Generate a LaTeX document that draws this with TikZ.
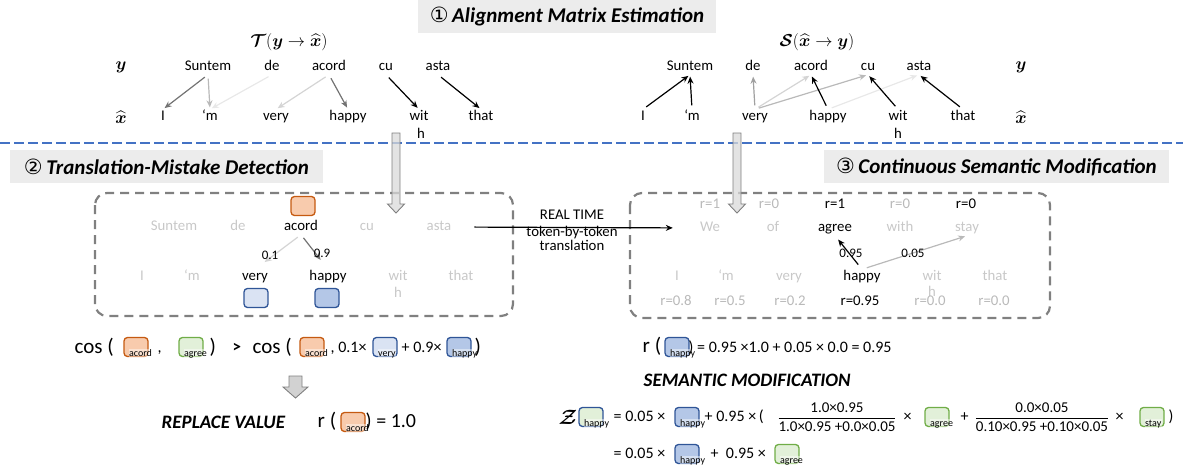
\documentclass[tikz,border=0pt]{standalone}
\usepackage{amsmath}
\usepackage{bm}
\usepackage{fontspec}
\setmainfont{Carlito}
\newfontfamily\circfont{DejaVu Sans}
\usetikzlibrary{arrows.meta}

\definecolor{hdrgray}{RGB}{236,236,236}
\definecolor{sepblue}{RGB}{68,114,196}
\definecolor{boxgray}{RGB}{128,128,128}
\definecolor{faint}{RGB}{200,200,200}
\definecolor{rgray}{RGB}{185,185,185}
\definecolor{orD}{RGB}{197,90,17}
\definecolor{orL}{RGB}{248,203,173}
\definecolor{grD}{RGB}{112,173,71}
\definecolor{grL}{RGB}{226,240,217}
\definecolor{blD}{RGB}{47,85,151}
\definecolor{blL}{RGB}{218,227,243}
\definecolor{blM}{RGB}{180,199,231}
\definecolor{aA}{RGB}{115,115,115}
\definecolor{aB}{RGB}{160,160,160}
\definecolor{aC}{RGB}{185,185,185}
\definecolor{aD}{RGB}{212,212,212}
\definecolor{aE}{RGB}{232,232,232}

\newcommand\fsz[1]{\fontsize{#1}{#1}\selectfont}

% embedding box with a small caption in its lower right part
\newcommand\vecbox[4]{%
  \node[tbox,#3] (#1) at (#2) {};
  \node[sublab] (#1l) at ([xshift=5pt,yshift=-2pt]#1.south west) {#4};
}

\tikzset{
  tok/.style={font=\fsz{14.8}, inner sep=1pt, text height=10pt, text depth=3pt},
  mlab/.style={font=\fsz{17}, inner sep=1pt},
  hdr/.style={fill=hdrgray, inner sep=0pt, font=\fsz{21}, minimum height=33pt},
  conn/.style={-{Stealth[length=7pt,width=6pt]}, line width=1.2pt, shorten <=4pt, shorten >=2pt},
  dbox/.style={draw=boxgray, line width=2.2pt, dash pattern=on 9pt off 6pt, rounded corners=12pt},
  hollow/.style={draw=gray, line width=0.9pt, fill=gray!30, fill opacity=0.75},
  tbox/.style={rounded corners=3.5pt, minimum width=24pt, minimum height=19pt, line width=1.3pt, inner sep=0pt},
  oran/.style={draw=orD, fill=orL},
  gre/.style={draw=grD, fill=grL},
  blueA/.style={draw=blD, fill=blL},
  blueB/.style={draw=blD, fill=blM},
  mixed/.style={draw=blD, fill=grL},
  sublab/.style={anchor=south west, font=\fsz{10}, inner sep=0.6pt, text height=6.5pt, text depth=2pt,
    fill=white, fill opacity=0.45, text opacity=1},
  ftxt/.style={font=\fsz{16}, inner sep=0.5pt, anchor=west, text height=11pt, text depth=3pt},
  fbig/.style={font=\fsz{21}, inner sep=0.5pt, anchor=west, text height=15pt, text depth=4.5pt},
  bi/.style={font=\fsz{19}\bfseries\itshape, inner sep=0.5pt, anchor=west},
  wlab/.style={font=\fsz{13}, inner sep=0.5pt},
}

\begin{document}
\begin{tikzpicture}[x=1pt, y=-1pt]
\useasboundingbox (0,0) rectangle (1183,472);

% ---------- stage 1: alignment matrices ----------
\node[hdr, minimum width=298pt] (h1) at (567,16.5) {{\circfont ①}\,\textbf{\textit{Alignment Matrix Estimation}}};

\node[mlab] (tT) at (289,42) {$\bm{\mathcal{T}}(\bm{y}\rightarrow\widehat{\bm{x}})$};
\node[mlab] (tS) at (817,42) {$\bm{\mathcal{S}}(\widehat{\bm{x}}\rightarrow\bm{y})$};

\node[mlab] (lY) at (121,67) {$\bm{y}$};
\node[mlab] (lX) at (121,117) {$\widehat{\bm{x}}$};
\node[mlab] (rY) at (1021,67) {$\bm{y}$};
\node[mlab] (rX) at (1021,117) {$\widehat{\bm{x}}$};

% left: target-to-source
\node[tok] (lySun) at (208,67) {Suntem};
\node[tok] (lyDe)  at (272,67) {de};
\node[tok] (lyAc)  at (329,67) {acord};
\node[tok] (lyCu)  at (386,67) {cu};
\node[tok] (lyAs)  at (438,67) {asta};
\node[tok] (lxI)  at (163,117) {I};
\node[tok] (lxM)  at (210,117) {‘m};
\node[tok] (lxV)  at (276,117) {very};
\node[tok] (lxH)  at (348,117) {happy};
\node[tok] (lxW)  at (419,117) {wit};
\node[tok] (lxW2) at (421,135) {h};
\node[tok] (lxT)  at (481,117) {that};

\draw[conn, aA] (lySun.south) -- (lxI.north);
\draw[conn, aC] (lySun.south) -- (lxM.north);
\draw[conn, aE] (lyDe.south) -- (lxM.north);
\draw[conn, aD] (lyAc.south) -- (lxV.north);
\draw[conn, aA] (lyAc.south) -- (lxH.north);
\draw[conn, black] (lyCu.south) -- (lxW.north);
\draw[conn, black] (lyAs.south) -- (lxT.north);

% right: source-to-target
\node[tok] (rySun) at (690,67) {Suntem};
\node[tok] (ryDe)  at (753,67) {de};
\node[tok] (ryAc)  at (811,67) {acord};
\node[tok] (ryCu)  at (868,67) {cu};
\node[tok] (ryAs)  at (919,67) {asta};
\node[tok] (rxI)  at (643,117) {I};
\node[tok] (rxM)  at (692,117) {‘m};
\node[tok] (rxV)  at (755,117) {very};
\node[tok] (rxH)  at (828,117) {happy};
\node[tok] (rxW)  at (898,117) {wit};
\node[tok] (rxW2) at (898,135) {h};
\node[tok] (rxT)  at (963,117) {that};

\draw[conn, aE] (rxH.north) -- (ryAs.south);
\draw[conn, aD] (rxV.north) -- (ryAc.south);
\draw[conn, aC] (rxV.north) -- (ryCu.south);
\draw[conn, aB] (rxV.north) -- (ryDe.south);
\draw[conn, black] (rxI.north) -- (rySun.south);
\draw[conn, black] (rxM.north) -- (rySun.south);
\draw[conn, black] (rxH.north) -- (ryAc.south);
\draw[conn, black] (rxW.north) -- (ryCu.south);
\draw[conn, black] (rxT.north) -- (ryAs.south);

% separator
\draw[sepblue, line width=1.8pt, dash pattern=on 10pt off 4pt] (0,143) -- (1183,143);

% ---------- stage 2: mistake detection ----------
\node[hdr, minimum width=313pt] (h2) at (166.5,166.5) {{\circfont ②}\,\textbf{\textit{Translation-Mistake Detection}}};
\draw[dbox] (95,193) rectangle (513,316);

\node[tok, faint] (dySun) at (174,227) {Suntem};
\node[tok, faint] (dyDe)  at (238,227) {de};
\node[tok]        (dyAc)  at (301,227) {acord};
\node[tok, faint] (dyCu)  at (367,227) {cu};
\node[tok, faint] (dyAs)  at (439,227) {asta};
\node[tok, faint] (dxI)  at (142,277) {I};
\node[tok, faint] (dxM)  at (192,277) {‘m};
\node[tok]        (dxV)  at (255,277) {very};
\node[tok]        (dxH)  at (328,277) {happy};
\node[tok, faint] (dxW)  at (398,277) {wit};
\node[tok, faint] (dxW2) at (398,294) {h};
\node[tok, faint] (dxT)  at (461,277) {that};

\node[tbox, oran]  (dbAc) at (303,206) {};
\node[tbox, blueA] (dbV)  at (256,298) {};
\node[tbox, blueB] (dbH)  at (327,298) {};

\draw[conn, aD, shorten >=12pt] (dyAc.south) -- (dxV.north);
\draw[conn, aA, shorten >=12pt] (dyAc.south) -- (dxH.north);
\node[wlab] (w01) at (270,255) {0.1};
\node[wlab] (w09) at (322,253) {0.9};

% ---------- stage 3: semantic modification ----------
\node[hdr, minimum width=345pt] (h3) at (996.5,166.5) {{\circfont ③}\,\textbf{\textit{Continuous Semantic Modification}}};
\draw[dbox] (630,193) rectangle (1050,318);

\node[tok, rgray] (mr1) at (710,205) {r=1};
\node[tok, rgray] (mr2) at (769,205) {r=0};
\node[tok]        (mr3) at (835,205) {r=1};
\node[tok, rgray] (mr4) at (900,205) {r=0};
\node[tok]        (mr5) at (966,205) {r=0};
\node[tok, faint] (mxWe) at (710,228) {We};
\node[tok, faint] (mxOf) at (773,228) {of};
\node[tok]        (mxAg) at (835,228) {agree};
\node[tok, faint] (mxWi) at (900,228) {with};
\node[tok, faint] (mxSt) at (967,228) {stay};
\node[tok, faint] (mqI)  at (677,277) {I};
\node[tok, faint] (mqM)  at (726,277) {‘m};
\node[tok, faint] (mqV)  at (789,277) {very};
\node[tok]        (mqH)  at (862,277) {happy};
\node[tok, faint] (mqW)  at (932,277) {wit};
\node[tok, faint] (mqW2) at (932,293) {h};
\node[tok, faint] (mqT)  at (995,277) {that};
\node[tok, rgray] (ms1) at (676,302) {r=0.8};
\node[tok, rgray] (ms2) at (730,302) {r=0.5};
\node[tok, rgray] (ms3) at (790,302) {r=0.2};
\node[tok]        (ms4) at (860,302) {r=0.95};
\node[tok, rgray] (ms5) at (930,302) {r=0.0};
\node[tok, rgray] (ms6) at (994,302) {r=0.0};

\draw[conn, aC, shorten <=5pt] (mqH.north) -- (mxSt.south);
\draw[conn, black, shorten <=6pt, shorten >=5pt] (mqH.north) -- (mxAg.south);
\node[wlab] (w95) at (851,253) {0.95};
\node[wlab] (w05) at (913,253) {0.05};

% real-time link between the two stages
\draw[conn, black, shorten <=22pt, shorten >=26pt] (dyAs.east) -- (mxWe.west);
\node[tok] (rt) at (572,216) {REAL TIME};
\node[tok, align=center] (tbt) at (572,247) {token-by-token\\[-1pt]translation};

% hand-over arrows from stage 1
\path[hollow] (392,133) -- (400,133) -- (400,204) -- (404.5,204) -- (396,213) -- (387.5,204) -- (392,204) -- cycle;
\path[hollow] (733,133) -- (741,133) -- (741,204) -- (745.5,204) -- (737,213) -- (728.5,204) -- (733,204) -- cycle;

% ---------- detection criterion ----------
\node[fbig] (c1) at (74,348) {cos (};
\vecbox{c1a}{136,347}{oran}{acord}
\node[ftxt] (c1b) at (157,348) {,};
\vecbox{c1c}{191,347}{gre}{agree}
\node[fbig] (c1d) at (209,348) {)};
\node[ftxt, font=\fsz{17}\bfseries] (gt) at (232,348) {>};
\node[fbig] (c2) at (252,348) {cos (};
\vecbox{c2a}{312,347}{oran}{acord}
\node[ftxt] (c2b) at (330,348) {, 0.1×};
\vecbox{c2c}{385,347}{blueA}{very}
\node[ftxt] (c2d) at (401,348) {+ 0.9×};
\vecbox{c2e}{459,347}{blueB}{happy}
\node[fbig] (c2f) at (474,348) {)};

\path[hollow, fill opacity=1, fill=gray!35] (289,376) -- (302,376) -- (302,387) -- (308,387) -- (295.5,398) -- (283,387) -- (289,387) -- cycle;

\node[bi] (rv) at (161,422) {REPLACE VALUE};
\node[fbig] (r1) at (317,422) {r (};
\vecbox{r1a}{353,422}{oran}{acord}
\node[fbig, font=\fsz{20}] (r1b) at (365,422) {) = 1.0};

% ---------- modification formulas ----------
\node[fbig] (r2) at (642,347) {r (};
\vecbox{r2a}{677,347}{blueB}{happy}
\node[ftxt] (r2b) at (688,348) {) = 0.95 ×1.0 + 0.05 × 0.0 = 0.95};

\node[bi] (sm) at (643,380) {SEMANTIC MODIFICATION};

\node[font=\fsz{20}] (zz) at (568,417) {$\bm{\mathcal{Z}}$};
\vecbox{z0}{591,417}{mixed}{happy}
\node[ftxt] (z1) at (613,417) {= 0.05 ×};
\vecbox{z2}{687,417}{blueB}{happy}
\node[ftxt] (z3) at (704,417) {+ 0.95 ×\,(};
\node[font=\fsz{15}, inner sep=0pt] (z4) at (837,417) {$\dfrac{\text{1.0×0.95}}{\text{1.0×0.95 +0.0×0.05}}$};
\node[ftxt] (z5) at (903,417) {×};
\vecbox{z6}{937,417}{gre}{agree}
\node[ftxt] (z7) at (960,417) {+};
\node[font=\fsz{15}, inner sep=0pt] (z8) at (1042,417) {$\dfrac{\text{0.0×0.05}}{\text{0.10×0.95 +0.10×0.05}}$};
\node[ftxt] (z9) at (1115,417) {×};
\vecbox{z10}{1152,417}{gre}{stay}
\node[ftxt] (z11) at (1168,417) {)};

\node[ftxt] (w1) at (613,454) {= 0.05 ×};
\vecbox{w2}{687,454}{blueB}{happy}
\node[ftxt] (w3) at (710,454) {+\ \ 0.95 ×};
\vecbox{w4}{787,454}{gre}{agree}
\end{tikzpicture}
\end{document}
